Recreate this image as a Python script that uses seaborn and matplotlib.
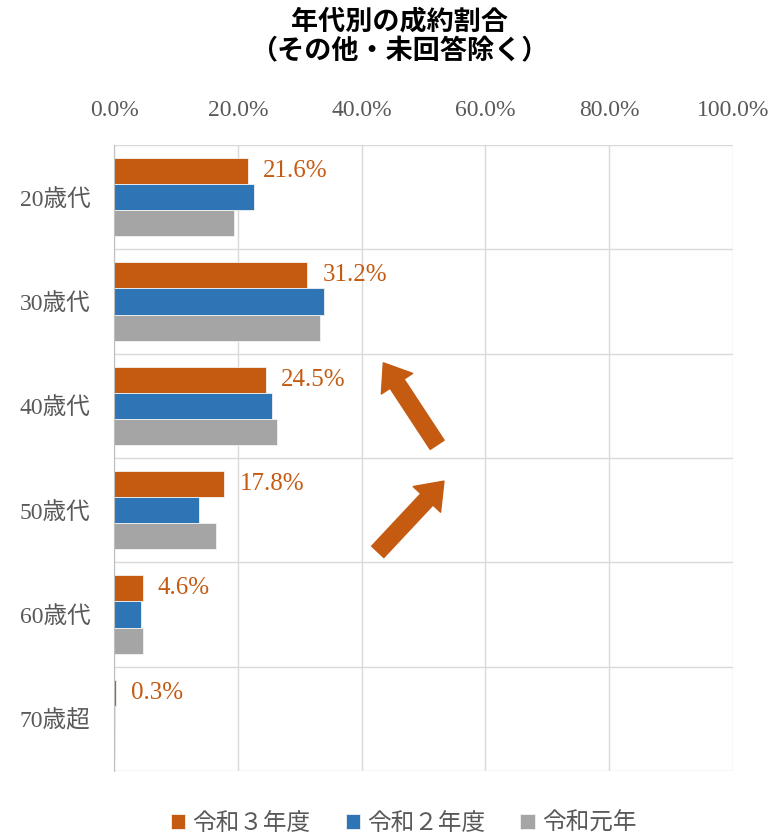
import numpy as np
import pandas as pd
import seaborn as sns
import matplotlib.pyplot as plt
from matplotlib.ticker import FuncFormatter

# data (percent)
ages = ['20歳代', '30歳代', '40歳代', '50歳代', '60歳代', '70歳超']
years = ['令和３年度', '令和２年度', '令和元年']
r3 = [21.6, 31.2, 24.5, 17.8, 4.6, 0.3]
r2 = [22.6, 33.9, 25.5, 13.8, 4.3, 0.1]
r1 = [19.3, 33.2, 26.3, 16.5, 4.7, 0.1]
colors = ['#C55A11', '#2E75B6', '#A5A5A5']

df = pd.DataFrame({
    'age': ages * 3,
    'year': [years[0]] * 6 + [years[1]] * 6 + [years[2]] * 6,
    'value': r3 + r2 + r1,
})

sns.set_style('white')
plt.rcParams['font.family'] = ['Liberation Serif', 'Noto Sans CJK JP', 'DejaVu Sans']

fig = plt.figure(figsize=(7.76, 8.36), dpi=100)
ax = fig.add_axes([0.147, 0.0778, 0.7976, 0.7488])

sns.barplot(data=df, y='age', x='value', hue='year', orient='h', palette=colors,
            saturation=1, width=0.75, edgecolor='#F2F2F2', linewidth=0.6, ax=ax, legend=True)

ax.set_xlim(0, 100)
ax.set_xticks(np.arange(0, 101, 20))
ax.xaxis.set_major_formatter(FuncFormatter(lambda v, p: f'{v:.1f}%'))
ax.xaxis.tick_top()
ax.set_xlabel('')
ax.set_ylabel('')
ax.set_ylim(5.5, -0.5)
ax.set_yticks(np.arange(-0.5, 6, 1), minor=True)
ax.tick_params(axis='x', which='major', length=0, labelsize=17, labelcolor='#595959', pad=17)
ax.tick_params(axis='y', which='both', length=0, labelsize=17, labelcolor='#595959', pad=17)
ax.grid(axis='x', which='major', color='#D9D9D9', lw=1)
ax.grid(axis='y', which='minor', color='#D9D9D9', lw=1)
ax.set_axisbelow(True)
for s in ['top', 'right', 'bottom']:
    ax.spines[s].set_visible(False)
ax.spines['left'].set_color('#BFBFBF')

# labels on 令和3年度 bars
ax.bar_label(ax.containers[0], labels=[f'{v:.1f}%' for v in r3], padding=11,
             color='#C55A11', fontsize=18)

# arrows
arrow = dict(arrowstyle='simple,head_length=1.2,head_width=1.8,tail_width=0.8',
             mutation_scale=15, color='#C55A11', shrinkA=0, shrinkB=0)
ax.annotate('', xy=(0.435, 0.652), xytext=(0.522, 0.521),
            xycoords='axes fraction', textcoords='axes fraction', arrowprops=arrow)
ax.annotate('', xy=(0.533, 0.463), xytext=(0.426, 0.350),
            xycoords='axes fraction', textcoords='axes fraction', arrowprops=arrow)

fig.text(0.515, 0.955, '年代別の成約割合\n（その他・未回答除く）', ha='center', va='center',
         fontsize=19.5, fontweight='bold', color='#000000', linespacing=1.2)

ax.get_legend().remove()
handles, labels = ax.get_legend_handles_labels()
fig.legend(handles[:3], labels[:3], loc='center', bbox_to_anchor=(0.52, 0.015), ncol=3,
           frameon=False, fontsize=17, handlelength=0.6, handleheight=0.6,
           handletextpad=0.3, columnspacing=1.5, labelcolor='#595959')

fig.savefig('out.png', dpi=100)
